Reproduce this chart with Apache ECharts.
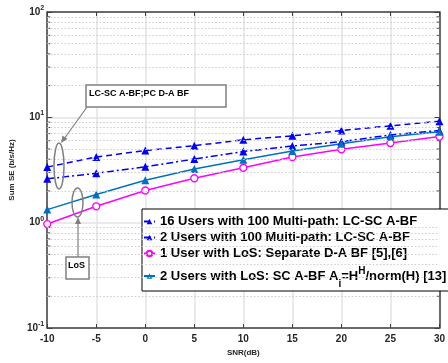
<!DOCTYPE html>
<html>
<head>
<meta charset="utf-8">
<script src="https://cdn.jsdelivr.net/npm/echarts@6/dist/echarts.min.js"></script>
<style>html,body{margin:0;padding:0;background:#fff}#c{width:448px;height:363px}</style>
</head>
<body>
<div id="c"></div>
<script>
var snr = [-10, -5, 0, 5, 10, 15, 20, 25, 30];
var users16Multipath = [3.37, 4.2, 4.84, 5.38, 6.12, 6.67, 7.5, 8.3, 9.18];
var users2Multipath = [2.61, 2.94, 3.39, 4.02, 4.74, 5.34, 5.87, 6.81, 7.51];
var user1LoS = [0.97, 1.43, 2.02, 2.64, 3.32, 4.2, 4.98, 5.7, 6.57];
var users2LoS = [1.33, 1.85, 2.53, 3.23, 3.96, 4.8, 5.6, 6.53, 7.31];
var xTicks = [-10, -5, 0, 5, 10, 15, 20, 25, 30];
var yMajor = [0.1, 1, 10, 100];
var seriesNames = [
  '16 Users with 100 Multi-path: LC-SC A-BF',
  '2 Users with 100 Multi-path: LC-SC A-BF',
  '1 User with LoS: Separate D-A BF [5],[6]',
  '2 Users with LoS: SC A-BF A_i=H^H/norm(H) [13]'
];

var minorVals = [];
[0.1, 1, 10].forEach(function (d) { for (var k = 2; k <= 9; k++) minorVals.push(+(d * k).toPrecision(3)); });

function pair(arr) { return snr.map(function (x, i) { return [x, arr[i]]; }); }

var FONT = '"Liberation Sans", Arial, sans-serif';
var axisCol = '#262626';
var grayA = '#808080';

var chart = echarts.init(document.getElementById('c'), null, { renderer: 'canvas' });
var option = {
  animation: false,
  backgroundColor: '#fff',
  grid: { left: 38, right: 2, top: 12, bottom: 35 },
  xAxis: [{
    type: 'value', min: -10, max: 30, interval: 5,
    name: 'SNR(dB)', nameLocation: 'middle', nameGap: 20,
    nameTextStyle: { fontFamily: FONT, fontWeight: 'bold', fontSize: 8, color: axisCol },
    axisLine: { onZero: false, lineStyle: { color: '#404040', width: 1.5 } },
    axisTick: { inside: true, length: 4, lineStyle: { color: '#404040', width: 1 } },
    axisLabel: { fontFamily: FONT, fontWeight: 'bold', fontSize: 10, color: axisCol, margin: 6 },
    splitLine: { show: true, lineStyle: { color: '#e3e3e3', width: 1.5 } }
  }, {
    type: 'value', min: -10, max: 30, interval: 5, position: 'top',
    axisLine: { onZero: false, lineStyle: { color: '#404040', width: 1.5 } },
    axisTick: { inside: true, length: 4, lineStyle: { color: '#404040', width: 1 } },
    axisLabel: { show: false }, splitLine: { show: false }
  }],
  yAxis: [{
    type: 'log', logBase: 10, min: 0.1, max: 100,
    name: 'Sum SE (b/s/Hz)', nameLocation: 'middle', nameGap: 22,
    nameTextStyle: { fontFamily: FONT, fontWeight: 'bold', fontSize: 8, color: axisCol },
    axisLine: { show: true, onZero: false, lineStyle: { color: '#404040', width: 1.5 } },
    axisTick: { inside: true, length: 5, lineStyle: { color: '#404040', width: 1 } },
    axisLabel: {
      margin: 3, color: axisCol,
      formatter: function (v) { var e = Math.round(Math.log10(v)); return '{b|10}{s|' + e + '}'; },
      rich: {
        b: { fontFamily: FONT, fontWeight: 'bold', fontSize: 10, color: axisCol },
        s: { fontFamily: FONT, fontWeight: 'bold', fontSize: 7, color: axisCol, padding: [0, 0, 8, 0] }
      }
    },
    splitLine: { show: true, lineStyle: { color: '#e3e3e3', width: 1.5 } }
  }, {
    type: 'log', logBase: 10, min: 0.1, max: 100, position: 'right',
    axisLine: { show: true, onZero: false, lineStyle: { color: '#404040', width: 1.5 } },
    axisTick: { inside: true, length: 5, lineStyle: { color: '#404040', width: 1 } },
    axisLabel: { show: false }, splitLine: { show: false }
  }],
  legend: {
    orient: 'vertical', left: 142, top: 209,
    padding: [6, 4, 2, 1], itemGap: 3, itemWidth: 11, itemHeight: 7,
    backgroundColor: '#fff', borderColor: '#000', borderWidth: 1,
    data: seriesNames,
    textStyle: {
      fontFamily: FONT, fontWeight: 'bold', fontSize: 13, color: '#000', lineHeight: 13,
      rich: {
        a: { fontFamily: FONT, fontWeight: 'bold', fontSize: 13, color: '#000', lineHeight: 13 },
        sub: { fontFamily: FONT, fontWeight: 'bold', fontSize: 10, color: '#000', lineHeight: 12, padding: [16, 0, 0, 0] },
        sup: { fontFamily: FONT, fontWeight: 'bold', fontSize: 10, color: '#000', lineHeight: 12, padding: [0, 0, 10, 0] }
      }
    },
    formatter: function (name) {
      if (name === seriesNames[3]) {
        return '{a|2 Users with LoS: SC A-BF A}{sub|i}{a|=H}{sup|H}{a|/norm(H) [13]}';
      }
      return name;
    }
  },
  series: [
    {
      name: '_minorgrid', type: 'line', data: [], silent: true,
      markLine: {
        silent: true, symbol: 'none', label: { show: false },
        lineStyle: { color: '#cccccc', type: [1.5, 2], width: 1 },
        data: minorVals.map(function (v) { return { yAxis: v }; })
      }
    },
    {
      name: '_minorticks', type: 'custom', silent: true, clip: false,
      data: minorVals.map(function (v) { return [v]; }),
      renderItem: function (params, api) {
        var v = api.value(0);
        var l = api.coord([-10, v]);
        var r = api.coord([30, v]);
        return {
          type: 'group', children: [
            { type: 'line', shape: { x1: l[0], y1: l[1], x2: l[0] + 3, y2: l[1] }, style: { stroke: '#404040', lineWidth: 1 } },
            { type: 'line', shape: { x1: r[0] - 3, y1: r[1], x2: r[0], y2: r[1] }, style: { stroke: '#404040', lineWidth: 1 } }
          ]
        };
      }
    },
    {
      name: seriesNames[0], type: 'line', data: pair(users16Multipath),
      symbol: 'triangle', symbolSize: 8,
      itemStyle: { color: '#0000ff' },
      lineStyle: { color: '#0000ff', width: 1.5, type: [6, 4] }
    },
    {
      name: seriesNames[1], type: 'line', data: pair(users2Multipath),
      symbol: 'triangle', symbolSize: 8,
      itemStyle: { color: '#0000ff' },
      lineStyle: { color: '#0000ff', width: 1.5, type: [7, 3, 2, 3] }
    },
    {
      name: seriesNames[2], type: 'line', data: pair(user1LoS),
      symbol: 'circle', symbolSize: 7,
      itemStyle: { color: '#fff', borderColor: '#ff00ff', borderWidth: 1.3 },
      lineStyle: { color: '#ff00ff', width: 1.5 }
    },
    {
      name: seriesNames[3], type: 'line', data: pair(users2LoS),
      symbol: 'triangle', symbolSize: 8,
      itemStyle: { color: '#0072bd' },
      lineStyle: { color: '#0072bd', width: 1.5 }
    }
  ],
  graphic: [
    { type: 'rect', shape: { x: 86, y: 85, width: 140, height: 22 }, style: { fill: '#fff', stroke: grayA, lineWidth: 1.5 }, z: 100 },
    { type: 'text', x: 89, y: 94, style: { text: 'LC-SC A-BF;PC D-A BF', font: 'bold 9px ' + FONT, fill: '#000', verticalAlign: 'middle' }, z: 101 },
    { type: 'line', shape: { x1: 87, y1: 107, x2: 64, y2: 139 }, style: { stroke: grayA, lineWidth: 1.2 }, z: 100 },
    { type: 'polygon', shape: { points: [[61, 143], [67.5, 139], [62.5, 135.6]] }, style: { fill: grayA }, z: 100 },
    { type: 'ellipse', shape: { cx: 59, cy: 166, rx: 5, ry: 23 }, style: { fill: 'none', stroke: grayA, lineWidth: 1.5 }, z: 100 },
    { type: 'ellipse', shape: { cx: 77.5, cy: 202.5, rx: 5.5, ry: 14.5 }, style: { fill: 'none', stroke: grayA, lineWidth: 1.5 }, z: 100 },
    { type: 'line', shape: { x1: 78, y1: 257, x2: 78, y2: 223 }, style: { stroke: grayA, lineWidth: 1.2 }, z: 100 },
    { type: 'polygon', shape: { points: [[78, 217], [75, 224], [81, 224]] }, style: { fill: grayA }, z: 100 },
    { type: 'rect', shape: { x: 66, y: 257, width: 23, height: 22 }, style: { fill: '#fff', stroke: grayA, lineWidth: 1.5 }, z: 100 },
    { type: 'text', x: 68, y: 266, style: { text: 'LoS', font: 'bold 9px ' + FONT, fill: '#000', verticalAlign: 'middle' }, z: 101 }
  ]
};
chart.setOption(option);
</script>
</body>
</html>
